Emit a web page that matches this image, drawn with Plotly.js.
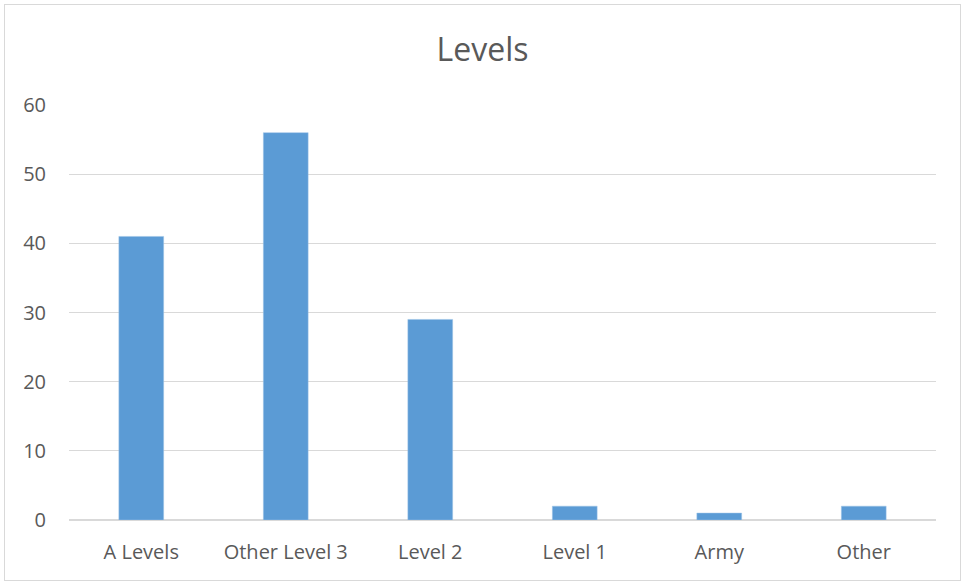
<!DOCTYPE html>
<html>
<head>
<meta charset="utf-8">
<script src="https://cdn.plot.ly/plotly-3.0.1.min.js"></script>
<style>
html,body{margin:0;padding:0;background:#fff;}
#wrap{position:relative;width:965px;height:583px;}
#chart{width:965px;height:583px;}
#border{position:absolute;left:4px;top:4px;width:955px;height:575px;border:1px solid #d9d9d9;pointer-events:none;}
</style>
</head>
<body>
<div id="wrap"><div id="chart"></div><div id="border"></div></div>
<script>
const categories = ["A Levels", "Other Level 3", "Level 2", "Level 1", "Army", "Other"];
const values = [41, 56, 29, 2, 1, 2];
const yTicks = [0, 10, 20, 30, 40, 50, 60];

const font = "'Open Sans', Lato, sans-serif";
Plotly.newPlot('chart', [{
  type: 'bar',
  x: categories,
  y: values,
  marker: {color: '#5b9bd5', line: {color: '#9dc3e6', width: 0.5}},
  hoverinfo: 'x+y'
}], {
  width: 965, height: 583,
  margin: {l: 69, r: 29, t: 105, b: 63},
  paper_bgcolor: '#ffffff', plot_bgcolor: '#ffffff',
  title: {text: 'Levels', x: 0.5, xanchor: 'center', y: 0.915, yanchor: 'middle',
          font: {family: font, size: 32, color: '#595959'}},
  bargap: 0.69,
  showlegend: false,
  xaxis: {
    type: 'category', showgrid: false, zeroline: false,
    showline: false, ticks: 'outside', ticklen: 14, tickcolor: 'rgba(0,0,0,0)',
    tickfont: {family: font, size: 20, color: '#595959'}
  },
  yaxis: {
    range: [0, 60], tickvals: yTicks, ticktext: yTicks.map(String),
    showgrid: true, gridcolor: '#d9d9d9', gridwidth: 1,
    zeroline: true, zerolinecolor: '#d9d9d9', zerolinewidth: 1.5,
    showline: false, ticks: 'outside', ticklen: 18, tickcolor: 'rgba(0,0,0,0)',
    tickfont: {family: font, size: 20, color: '#595959'}
  }
}, {displayModeBar: false, staticPlot: true});
</script>
</body>
</html>
